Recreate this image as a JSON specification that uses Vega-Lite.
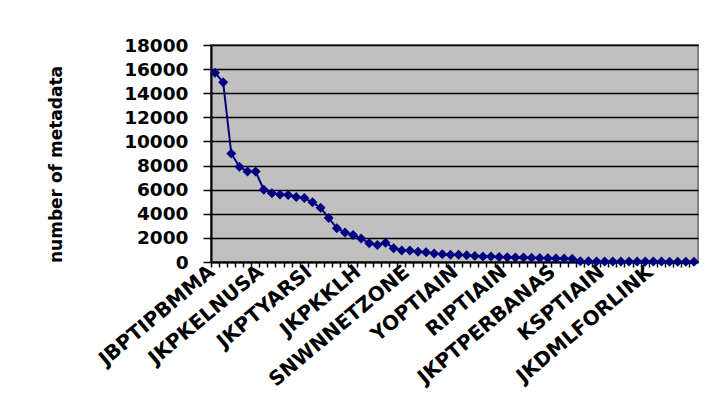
{
  "$schema": "https://vega.github.io/schema/vega-lite/v6.json",
  "autosize": "none",
  "width": 487,
  "height": 217,
  "padding": {"left": 211, "top": 45, "right": 10, "bottom": 157},
  "background": "white",
  "config": {
    "view": {"fill": "#C0C0C0", "stroke": "#808080", "strokeWidth": 2},
    "font": "DejaVu Sans"
  },
  "data": {
    "values": [
      {"name": "JBPTIPBMMA", "count": 15700},
      {"name": "#01", "count": 14900},
      {"name": "#02", "count": 9000},
      {"name": "#03", "count": 7900},
      {"name": "#04", "count": 7500},
      {"name": "#05", "count": 7500},
      {"name": "JKPKELNUSA", "count": 6000},
      {"name": "#07", "count": 5700},
      {"name": "#08", "count": 5600},
      {"name": "#09", "count": 5550},
      {"name": "#10", "count": 5400},
      {"name": "#11", "count": 5300},
      {"name": "JKPTYARSI", "count": 4950},
      {"name": "#13", "count": 4500},
      {"name": "#14", "count": 3650},
      {"name": "#15", "count": 2800},
      {"name": "#16", "count": 2450},
      {"name": "#17", "count": 2250},
      {"name": "JKPKKLH", "count": 1950},
      {"name": "#19", "count": 1550},
      {"name": "#20", "count": 1400},
      {"name": "#21", "count": 1600},
      {"name": "#22", "count": 1150},
      {"name": "#23", "count": 950},
      {"name": "SNWNNETZONE", "count": 950},
      {"name": "#25", "count": 850},
      {"name": "#26", "count": 800},
      {"name": "#27", "count": 700},
      {"name": "#28", "count": 650},
      {"name": "#29", "count": 600},
      {"name": "YOPTIAIN", "count": 600},
      {"name": "#31", "count": 550},
      {"name": "#32", "count": 500},
      {"name": "#33", "count": 450},
      {"name": "#34", "count": 450},
      {"name": "#35", "count": 420},
      {"name": "RIPTIAIN", "count": 400},
      {"name": "#37", "count": 380},
      {"name": "#38", "count": 380},
      {"name": "#39", "count": 350},
      {"name": "#40", "count": 330},
      {"name": "#41", "count": 320},
      {"name": "JKPTPERBANAS", "count": 300},
      {"name": "#43", "count": 280},
      {"name": "#44", "count": 260},
      {"name": "#45", "count": 60},
      {"name": "#46", "count": 55},
      {"name": "#47", "count": 50},
      {"name": "KSPTIAIN", "count": 50},
      {"name": "#49", "count": 45},
      {"name": "#50", "count": 45},
      {"name": "#51", "count": 40},
      {"name": "#52", "count": 40},
      {"name": "#53", "count": 40},
      {"name": "JKDMLFORLINK", "count": 35},
      {"name": "#55", "count": 35},
      {"name": "#56", "count": 30},
      {"name": "#57", "count": 30},
      {"name": "#58", "count": 30},
      {"name": "#59", "count": 30}
    ]
  },
  "encoding": {
    "x": {
      "field": "name",
      "type": "nominal",
      "sort": null,
      "scale": {"type": "band", "paddingInner": 0, "paddingOuter": 0},
      "axis": {
        "title": null,
        "bandPosition": 0,
        "labelOffset": -3,
        "labelExpr": "substring(datum.value, 0, 1) == '#' ? '' : datum.label",
        "labelAngle": -40,
        "labelAlign": "right",
        "labelBaseline": "middle",
        "labelFont": "DejaVu Sans",
        "labelFontWeight": "bold",
        "labelFontSize": 20,
        "labelColor": "black",
        "labelOverlap": false,
        "labelPadding": 2,
        "tickColor": "black",
        "tickSize": 5,
        "tickWidth": 1.5,
        "domainColor": "black",
        "domainWidth": 2,
        "grid": false
      }
    },
    "y": {
      "field": "count",
      "type": "quantitative",
      "scale": {"domain": [0, 18000], "nice": false},
      "axis": {
        "title": "number of metadata",
        "titleFont": "DejaVu Sans",
        "titleFontWeight": "bold",
        "titleFontSize": 17,
        "titleColor": "black",
        "titlePadding": 58,
        "titleY": 119,
        "values": [0, 2000, 4000, 6000, 8000, 10000, 12000, 14000, 16000, 18000],
        "format": "d",
        "labelFont": "DejaVu Sans",
        "labelFontWeight": "bold",
        "labelFontSize": 18.5,
        "labelColor": "black",
        "labelPadding": 15,
        "tickColor": "black",
        "tickSize": 8,
        "tickWidth": 1.5,
        "domainColor": "black",
        "domainWidth": 2,
        "grid": true,
        "gridColor": "black",
        "gridWidth": 1.5
      }
    }
  },
  "layer": [
    {"mark": {"type": "line", "color": "#000080", "strokeWidth": 2}},
    {"mark": {"type": "point", "shape": "diamond", "filled": true, "size": 100, "color": "#000080", "opacity": 1}}
  ]
}
